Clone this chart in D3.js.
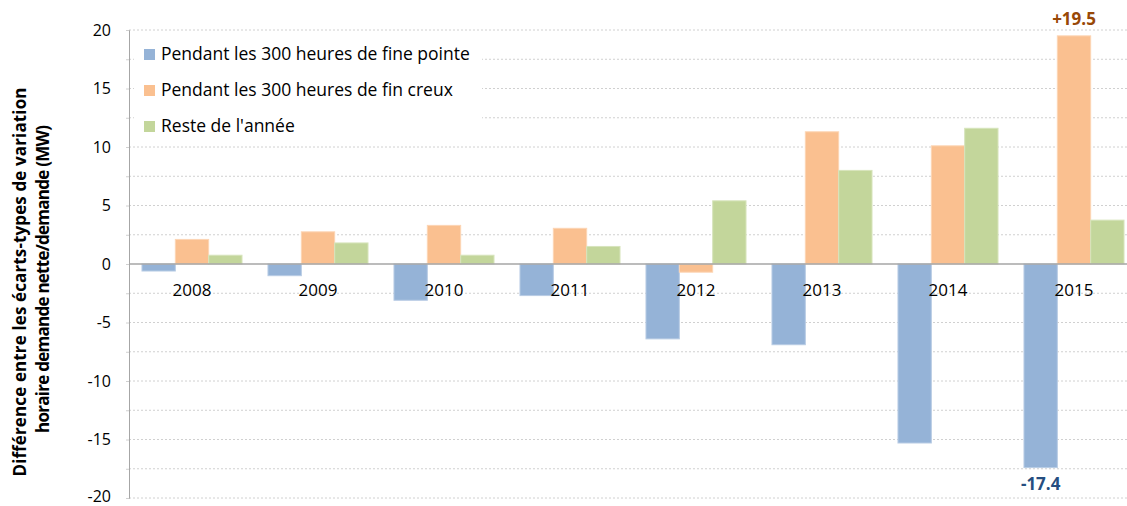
<!DOCTYPE html>
<html>
<head>
<meta charset="utf-8">
<script src="https://cdn.jsdelivr.net/npm/d3@7"></script>
<style>
  body { margin: 0; background: #fff; }
  svg { font-family: "Open Sans", "Liberation Sans", sans-serif; }
</style>
</head>
<body>
<div id="chart"></div>
<script>
// data
const years = ["2008", "2009", "2010", "2011", "2012", "2013", "2014", "2015"];
const series = ["Pendant les 300 heures de fine pointe", "Pendant les 300 heures de fin creux", "Reste de l'année"];
const pointe = [-0.6, -1.0, -3.1, -2.7, -6.4, -6.9, -15.3, -17.4];
const creux = [2.1, 2.75, 3.3, 3.05, -0.7, 11.3, 10.1, 19.5];
const reste = [0.75, 1.8, 0.75, 1.5, 5.4, 8.0, 11.6, 3.75];
const yTicks = [-20, -15, -10, -5, 0, 5, 10, 15, 20];
const colors = ["#95B3D7", "#FAC090", "#C3D69B"];
const edges = ["#B8CCE4", "#FCD5B4", "#D7E4BC"];

const W = 1127, H = 506;
const plot = {left: 129, right: 1137, top: 30, bottom: 498};

const svg = d3.select("#chart").append("svg")
    .attr("width", W).attr("height", H);

const y = d3.scaleLinear().domain([-20, 20]).range([plot.bottom, plot.top]);
const x = d3.scaleBand().domain(years).range([plot.left, plot.right]).paddingInner(0.206).paddingOuter(0.103);
const xs = d3.scaleBand().domain(d3.range(3)).range([0, x.bandwidth()]);

// grid lines every 2.5
const grid = d3.range(-20, 20.01, 2.5);
svg.append("g").selectAll("line")
    .data(grid.filter(d => d !== 0))
    .enter().append("line")
    .attr("x1", plot.left).attr("x2", W)
    .attr("y1", d => y(d)).attr("y2", d => y(d))
    .attr("stroke", "#D0D0D0")
    .attr("stroke-width", 1)
    .attr("stroke-dasharray", "2,2");

// bars
const allSeries = [pointe, creux, reste];
allSeries.forEach(function (vals, i) {
    svg.append("g").selectAll("rect")
        .data(vals)
        .enter().append("rect")
        .attr("x", (d, j) => x(years[j]) + xs(i))
        .attr("width", xs.bandwidth())
        .attr("y", d => y(Math.max(0, d)))
        .attr("height", d => Math.abs(y(d) - y(0)))
        .attr("fill", colors[i])
        .attr("stroke", edges[i])
        .attr("stroke-width", 1);
});

// zero line and y axis
svg.append("line")
    .attr("x1", plot.left).attr("x2", W)
    .attr("y1", y(0)).attr("y2", y(0))
    .attr("stroke", "#A6A6A6").attr("stroke-width", 1.5);

const yAxis = svg.append("g")
    .attr("transform", "translate(" + plot.left + ",0)")
    .call(d3.axisLeft(y).tickValues(grid).tickSize(3).tickFormat(""));
yAxis.select(".domain").attr("stroke", "#A6A6A6");
yAxis.selectAll(".tick line").attr("stroke", "#D0D0D0");

// keep the bottom label inside the window
svg.append("g").selectAll("text")
    .data(yTicks)
    .enter().append("text")
    .attr("x", 111)
    .attr("y", d => Math.min(y(d) + 5.5, H - 4.5))
    .attr("text-anchor", "end")
    .attr("font-size", 16)
    .attr("fill", "#000")
    .text(d => d);

// year labels under zero line
svg.append("g").selectAll("text")
    .data(years)
    .enter().append("text")
    .attr("x", d => x(d) + x.bandwidth() / 2)
    .attr("y", y(0) + 32)
    .attr("text-anchor", "middle")
    .attr("font-size", 17)
    .text(d => d);

// value labels
const last = years.length - 1;
svg.append("text")
    .attr("x", x(years[last]) + xs(1) + xs.bandwidth() / 2)
    .attr("y", y(creux[last]) - 11)
    .attr("text-anchor", "middle")
    .attr("font-size", 17).attr("font-weight", "bold")
    .attr("fill", "#984807")
    .text("+" + creux[last]);
svg.append("text")
    .attr("x", x(years[last]) + xs(0) + xs.bandwidth() / 2)
    .attr("y", y(pointe[last]) + 22)
    .attr("text-anchor", "middle")
    .attr("font-size", 17).attr("font-weight", "bold")
    .attr("fill", "#254E80")
    .text(pointe[last]);

// legend
const legend = svg.append("g");
legend.append("rect")
    .attr("x", 134).attr("y", 34).attr("width", 348).attr("height", 110)
    .attr("fill", "#fff");
series.forEach(function (s, i) {
    legend.append("rect")
        .attr("x", 144).attr("y", 49 + i * 36)
        .attr("width", 11).attr("height", 11)
        .attr("fill", colors[i]);
    legend.append("text")
        .attr("x", 161).attr("y", 60 + i * 36)
        .attr("font-size", 17.5)
        .text(s);
});

// y axis title
svg.append("text")
    .attr("transform", "translate(26,282) rotate(-90)")
    .attr("text-anchor", "middle")
    .attr("font-size", 17).attr("font-weight", "bold")
    .attr("textLength", 389).attr("lengthAdjust", "spacing")
    .text("Différence entre les écarts-types de variation");
svg.append("text")
    .attr("transform", "translate(49,279) rotate(-90)")
    .attr("text-anchor", "middle")
    .attr("font-size", 17).attr("font-weight", "bold")
    .attr("textLength", 308).attr("lengthAdjust", "spacing")
    .text("horaire demande nette/demande (MW)");
</script>
</body>
</html>
